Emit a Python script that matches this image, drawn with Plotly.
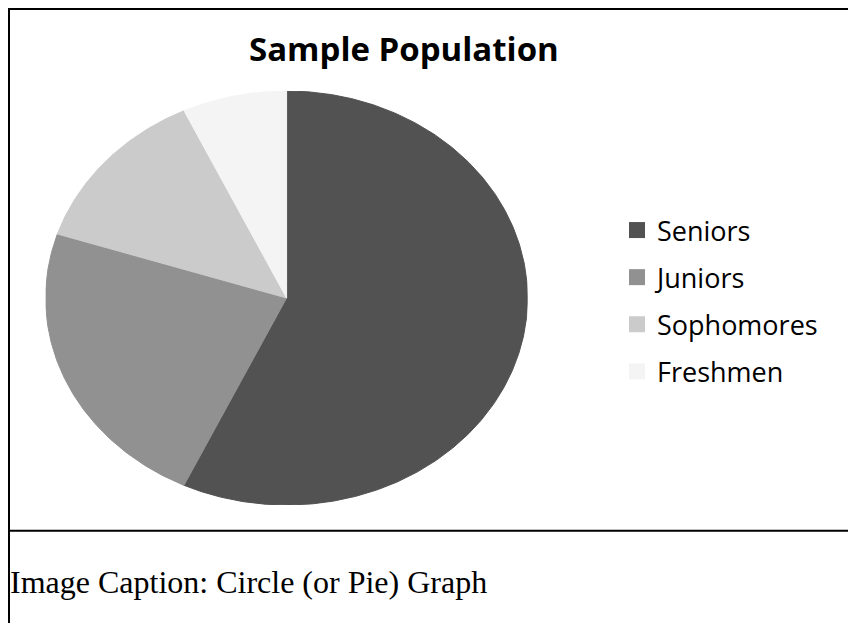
import numpy as np
import plotly.graph_objects as go

# ---- data ----
categories = ["Seniors", "Juniors", "Sophomores", "Freshmen"]
values = [57, 23, 13, 7]
colors = ["#525252", "#919191", "#cbcbcb", "#f4f4f4"]
title_text = "Sample Population"
caption_text = "Image Caption: Circle (or Pie) Graph"

# page body has an 8px margin; figure fills the rest of the 856x623 window
OFF = 8
W, H = 856 - OFF, 623 - OFF


def px(x):
    return (x - OFF) / W


def py(y):
    return 1 - (y - OFF) / H


fig = go.Figure()

# pie slices drawn clockwise from 12 o'clock on an (elliptically stretched) unit circle
total = float(sum(values))
start = 0.0
for cat, val, col in zip(categories, values, colors):
    frac = val / total
    th = np.linspace(start, start + frac, max(int(frac * 720), 8)) * 2 * np.pi
    xs = np.concatenate([[0.0], np.sin(th), [0.0]])
    ys = np.concatenate([[0.0], np.cos(th), [0.0]])
    fig.add_trace(go.Scatter(
        x=xs, y=ys, mode="lines", fill="toself", fillcolor=col,
        line=dict(color=col, width=1), hoverinfo="text", text=cat,
        showlegend=False,
    ))
    start += frac

# legend entries
for cat, col in zip(categories, colors):
    fig.add_trace(go.Scatter(
        x=[None], y=[None], mode="markers", name=cat, legendgroup=cat,
        marker=dict(symbol="square", size=16, color=col),
    ))

# frame lines
line = dict(color="black", width=2)
fig.add_shape(type="line", xref="paper", yref="paper",
              x0=1 / W, x1=1, y0=1 - 1 / H, y1=1 - 1 / H, line=line)
fig.add_shape(type="line", xref="paper", yref="paper",
              x0=1 / W, x1=1 / W, y0=1, y1=0, line=line)
fig.add_shape(type="line", xref="paper", yref="paper",
              x0=0, x1=1, y0=py(530.7), y1=py(530.7), line=line)

fig.add_annotation(text="<b>" + title_text + "</b>", xref="paper", yref="paper",
                   x=px(404), y=py(49), xanchor="center", yanchor="middle",
                   showarrow=False,
                   font=dict(family="Open Sans", size=33, color="black"))
fig.add_annotation(text=caption_text, xref="paper", yref="paper",
                   x=px(8), y=py(582), xanchor="left", yanchor="middle",
                   showarrow=False,
                   font=dict(family="Liberation Serif", size=32, color="black"))

fig.update_layout(
    width=W, height=H,
    margin=dict(l=0, r=0, t=0, b=0),
    paper_bgcolor="white", plot_bgcolor="white",
    xaxis=dict(domain=[px(45.6), px(527.6)], range=[-1, 1], visible=False, fixedrange=True),
    yaxis=dict(domain=[py(505), py(91)], range=[-1, 1], visible=False, fixedrange=True),
    legend=dict(x=px(617), y=py(301), xanchor="left", yanchor="middle",
                font=dict(family="Open Sans", size=27, color="black"),
                tracegroupgap=9, itemsizing="trace", bgcolor="rgba(0,0,0,0)"),
    showlegend=True,
)

fig.write_html("out.html")
